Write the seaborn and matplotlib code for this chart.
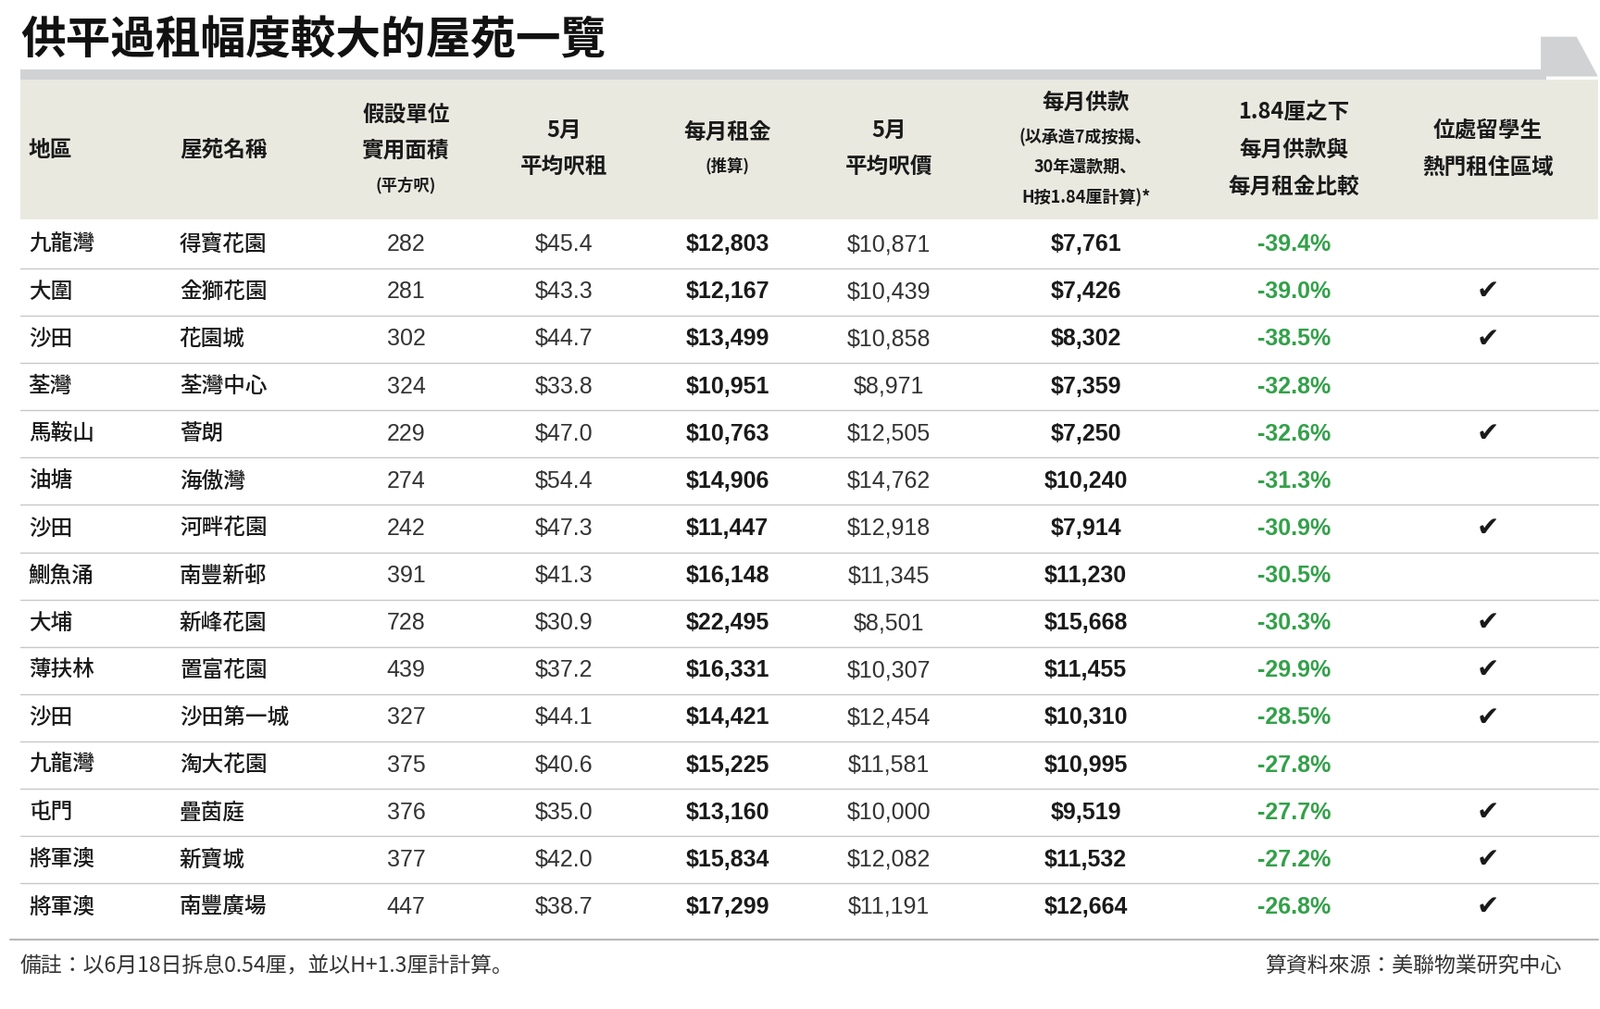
import matplotlib
matplotlib.use("Agg")
import matplotlib.pyplot as plt
import seaborn as sns
from matplotlib.patches import Rectangle, Polygon

sns.set_theme(style="white")
plt.rcParams["font.family"] = ["Noto Sans CJK TC", "Noto Sans CJK JP", "Noto Sans CJK SC", "DejaVu Sans"]

title = "供平過租幅度較大的屋苑一覽"
districts = ["九龍灣", "大圍", "沙田", "荃灣", "馬鞍山", "油塘", "沙田", "鰂魚涌", "大埔",
             "薄扶林", "沙田", "九龍灣", "屯門", "將軍澳", "將軍澳"]
estates = ["得寶花園", "金獅花園", "花園城", "荃灣中心", "薈朗", "海傲灣", "河畔花園", "南豐新邨",
           "新峰花園", "置富花園", "沙田第一城", "淘大花園", "疊茵庭", "新寶城", "南豐廣場"]
area = [282, 281, 302, 324, 229, 274, 242, 391, 728, 439, 327, 375, 376, 377, 447]
rent_psf = [45.4, 43.3, 44.7, 33.8, 47.0, 54.4, 47.3, 41.3, 30.9, 37.2, 44.1, 40.6, 35.0, 42.0, 38.7]
rent = [12803, 12167, 13499, 10951, 10763, 14906, 11447, 16148, 22495, 16331, 14421, 15225, 13160, 15834, 17299]
price_psf = [10871, 10439, 10858, 8971, 12505, 14762, 12918, 11345, 8501, 10307, 12454, 11581, 10000, 12082, 11191]
payment = [7761, 7426, 8302, 7359, 7250, 10240, 7914, 11230, 15668, 11455, 10310, 10995, 9519, 11532, 12664]
diff_pct = [-39.4, -39.0, -38.5, -32.8, -32.6, -31.3, -30.9, -30.5, -30.3, -29.9, -28.5, -27.8, -27.7, -27.2, -26.8]
student_area = [False, True, True, False, True, False, True, False, True, True, True, False, True, True, True]

W, H = 1568, 990
fig = plt.figure(figsize=(17.28, 10.9), dpi=100)
ax = fig.add_axes([0, 0, 1, 1])
ax.set_xlim(0, W)
ax.set_ylim(H, 0)
ax.axis("off")

# title and decorations
ax.text(20, 40, title, fontsize=35, fontweight="bold", va="center", ha="left", color="#111111")
ax.add_patch(Rectangle((20, 68), 1495, 10, color="#d0d2d4", lw=0))
ax.add_patch(Polygon([(1510, 36), (1545, 36), (1566, 75), (1510, 75)], color="#d0d2d4", lw=0))
ax.add_patch(Rectangle((20, 78), 1546, 137, color="#e9e9e0", lw=0))

fs = 17
nfs = 18
dark = "#1a1a1a"
hw = "bold"
# headers
ax.text(28, 147, "地區", fontsize=fs, va="center", color=dark, fontweight=hw)
ax.text(176, 147, "屋苑名稱", fontsize=fs, va="center", color=dark, fontweight=hw)
ax.text(398, 112, "假設單位", fontsize=fs, va="center", ha="center", color=dark, fontweight=hw)
ax.text(398, 148, "實用面積", fontsize=fs, va="center", ha="center", color=dark, fontweight=hw)
ax.text(398, 182, "(平方呎)", fontsize=12.5, va="center", ha="center", color=dark, fontweight=hw)
ax.text(553, 128, "5月", fontsize=fs, va="center", ha="center", color=dark, fontweight=hw)
ax.text(553, 163, "平均呎租", fontsize=fs, va="center", ha="center", color=dark, fontweight=hw)
ax.text(713, 130, "每月租金", fontsize=fs, va="center", ha="center", color=dark, fontweight=hw)
ax.text(713, 163, "(推算)", fontsize=12.5, va="center", ha="center", color=dark, fontweight=hw)
ax.text(871, 128, "5月", fontsize=fs, va="center", ha="center", color=dark, fontweight=hw)
ax.text(871, 163, "平均呎價", fontsize=fs, va="center", ha="center", color=dark, fontweight=hw)
ax.text(1064, 101, "每月供款", fontsize=fs, va="center", ha="center", color=dark, fontweight=hw)
ax.text(1064, 135, "(以承造7成按揭、", fontsize=13, va="center", ha="center", color=dark, fontweight=hw)
ax.text(1064, 164, "30年還款期、", fontsize=13, va="center", ha="center", color=dark, fontweight=hw)
ax.text(1064, 194, "H按1.84厘計算)*", fontsize=13, va="center", ha="center", color=dark, fontweight=hw)
ax.text(1268, 110, "1.84厘之下", fontsize=fs, va="center", ha="center", color=dark, fontweight=hw)
ax.text(1268, 147, "每月供款與", fontsize=fs, va="center", ha="center", color=dark, fontweight=hw)
ax.text(1268, 183, "每月租金比較", fontsize=fs, va="center", ha="center", color=dark, fontweight=hw)
ax.text(1458, 128, "位處留學生", fontsize=fs, va="center", ha="center", color=dark, fontweight=hw)
ax.text(1458, 164, "熱門租住區域", fontsize=fs, va="center", ha="center", color=dark, fontweight=hw)

# rows
y0, step = 240, 46.43
for i in range(len(districts)):
    y = y0 + i * step
    ax.text(28, y, districts[i], fontsize=fs, va="center", color=dark, fontweight="medium")
    ax.text(176, y, estates[i], fontsize=fs, va="center", color=dark, fontweight="medium")
    ax.text(398, y, f"{area[i]}", fontsize=nfs, va="center", ha="center", color="#333333", family="Liberation Sans")
    ax.text(553, y, f"${rent_psf[i]:.1f}", fontsize=nfs, va="center", ha="center", color="#333333", family="Liberation Sans")
    ax.text(713, y, f"${rent[i]:,}", fontsize=nfs, va="center", ha="center", color=dark, fontweight="bold", family="Liberation Sans")
    ax.text(871, y, f"${price_psf[i]:,}", fontsize=nfs, va="center", ha="center", color="#333333", family="Liberation Sans")
    ax.text(1064, y, f"${payment[i]:,}", fontsize=nfs, va="center", ha="center", color=dark, fontweight="bold", family="Liberation Sans")
    ax.text(1268, y, f"{diff_pct[i]:.1f}%", fontsize=nfs, va="center", ha="center", color="#34a04a", fontweight="bold", family="Liberation Sans")
    if student_area[i]:
        ax.text(1458, y, "✔", fontsize=21, va="center", ha="center", color=dark, family="DejaVu Sans")
    if i < len(districts) - 1:
        ax.plot([20, 1566], [y + step / 2, y + step / 2], color="#c8c8c8", lw=1)

ax.plot([10, 1566], [922, 922], color="#b8b8b8", lw=1.5)
ax.text(20, 948, "備註：以6月18日拆息0.54厘，並以H+1.3厘計計算。", fontsize=16.5, va="center", style="italic", color="#333333")
ax.text(1530, 948, "算資料來源：美聯物業研究中心", fontsize=16.5, va="center", ha="right", style="italic", color="#333333")

fig.savefig("out.png", dpi=100, facecolor="white")
